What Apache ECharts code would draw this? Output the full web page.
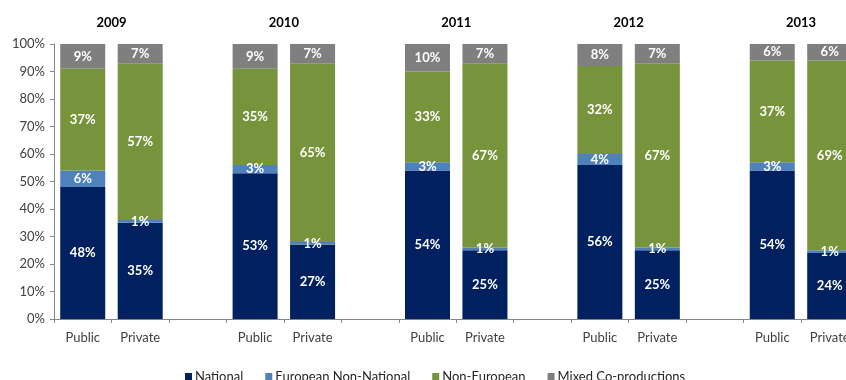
<!DOCTYPE html>
<html>
<head>
<meta charset="utf-8">
<script src="https://cdn.jsdelivr.net/npm/echarts@6/dist/echarts.min.js"></script>
<style>
  html, body { margin: 0; padding: 0; background: #fff; }
  #chart { width: 846px; height: 380px; }
</style>
</head>
<body>
<div id="chart"></div>
<script>
// Years and the two broadcaster groups shown for each year
const years = ['2009', '2010', '2011', '2012', '2013'];
const groups = ['Public', 'Private'];

// Shares (%) per year, ordered Public, Private for each year
const national         = [48, 35, 53, 27, 54, 25, 56, 25, 54, 24];
const europeanNonNat   = [ 6,  1,  3,  1,  3,  1,  4,  1,  3,  1];
const nonEuropean      = [37, 57, 35, 65, 33, 67, 32, 67, 37, 69];
const mixedCoProd      = [ 9,  7,  9,  7, 10,  7,  8,  7,  6,  6];

const seriesNames = ['National', 'European Non-National', 'Non-European', 'Mixed Co-productions'];
const colors = ['#002060', '#4F81BD', '#77933C', '#7F7F7F'];

// Category axis: Public, Private, spacer, Public, Private, spacer, ...
const categories = [];
years.forEach((y, i) => {
  groups.forEach(g => categories.push(g));
  if (i < years.length - 1) categories.push(' '.repeat(i + 1));
});

// Spread the per-year values over the category slots, leaving spacers empty
function spread(values) {
  const out = [];
  years.forEach((y, i) => {
    out.push(values[2 * i], values[2 * i + 1]);
    if (i < years.length - 1) out.push(null);
  });
  return out;
}

// Year headings sit centred between each Public/Private pair
const yearPositions = years.map((y, i) => 3 * i + 1);

const font = 'Lato, "Open Sans", sans-serif';
const slot = 57.46;

const chart = echarts.init(document.getElementById('chart'), null, { renderer: 'canvas' });

chart.setOption({
  animation: false,
  textStyle: { fontFamily: font },
  grid: {
    left: 54, top: 44,
    width: slot * categories.length, height: 275,
    containLabel: false,
    outerBoundsMode: 'none'
  },
  legend: {
    data: seriesNames,
    left: 180,
    top: 365,
    itemWidth: 7,
    itemHeight: 7,
    itemGap: 22,
    icon: 'rect',
    textStyle: { fontSize: 13, color: '#262626', fontFamily: font, padding: [0, 0, 0, -2] }
  },
  xAxis: [
    {
      type: 'category',
      data: categories,
      axisLine: { lineStyle: { color: '#868686' } },
      axisTick: { show: true, alignWithLabel: false, length: 4, lineStyle: { color: '#868686' } },
      axisLabel: { color: '#404040', fontSize: 13, margin: 12, interval: 0 }
    },
    {
      type: 'value',
      position: 'top',
      min: 0,
      max: categories.length,
      axisLine: { show: false },
      axisTick: { show: false },
      splitLine: { show: false },
      axisLabel: {
        customValues: yearPositions,
        formatter: v => years[(v - 1) / 3] || '',
        fontWeight: 'bold',
        fontSize: 13,
        color: '#000',
        margin: 15
      }
    }
  ],
  yAxis: {
    type: 'value',
    min: 0,
    max: 100,
    interval: 10,
    axisLine: { show: true, lineStyle: { color: '#868686' } },
    axisTick: { show: true, length: 4, lineStyle: { color: '#868686' } },
    splitLine: { show: false },
    axisLabel: { formatter: '{value}%', color: '#404040', fontSize: 13, margin: 9 }
  },
  series: [national, europeanNonNat, nonEuropean, mixedCoProd].map((vals, i) => ({
    name: seriesNames[i],
    type: 'bar',
    stack: 'share',
    barWidth: 45,
    xAxisIndex: 0,
    data: spread(vals),
    itemStyle: { color: colors[i] },
    label: {
      show: true,
      position: 'inside',
      formatter: p => (p.value == null ? '' : p.value + '%'),
      color: '#fff',
      fontWeight: 'bold',
      fontSize: 13,
      fontFamily: font
    }
  }))
});
</script>
</body>
</html>
